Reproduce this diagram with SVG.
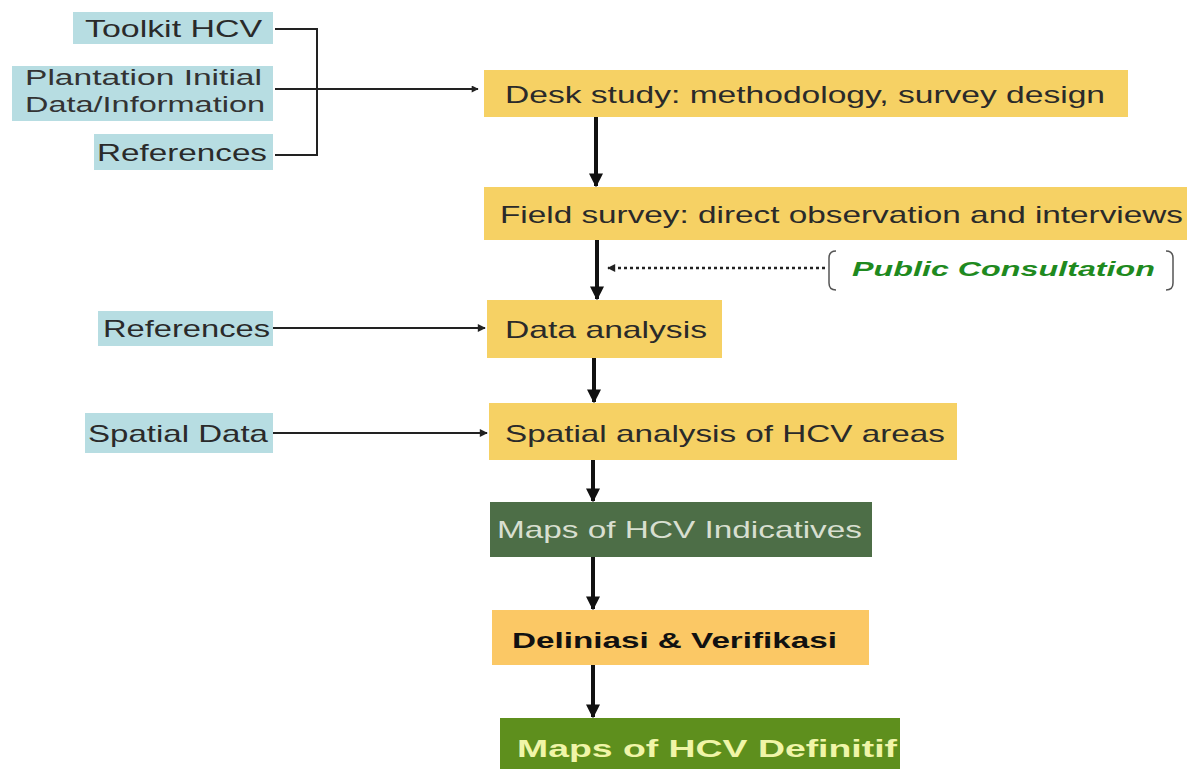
<svg xmlns="http://www.w3.org/2000/svg" width="1195" height="769" viewBox="0 0 1195 769">
<style>
.in{fill:#b7dde2}
.y{fill:#f6d164}
.t{font-family:"Liberation Sans",Arial,sans-serif;font-size:24px;fill:#2a2a2a}
.tl{font-family:"Liberation Sans",Arial,sans-serif;font-size:22px;fill:#333}
.b{font-family:"Liberation Sans",Arial,sans-serif;font-weight:bold}
.thin{stroke:#222;stroke-width:2;fill:none}
.thick{stroke:#111;stroke-width:4;fill:none}
</style>
<defs>
<marker id="ah" viewBox="0 0 10 10" refX="9" refY="5" markerWidth="9" markerHeight="7" orient="auto" markerUnits="userSpaceOnUse">
<path d="M0,0 L10,5 L0,10 Z" fill="#222"/>
</marker>
<marker id="ahs" viewBox="0 0 10 10" refX="9" refY="5" markerWidth="10" markerHeight="8" orient="auto" markerUnits="userSpaceOnUse">
<path d="M0,0 L10,5 L0,10 Z" fill="#222"/>
</marker>
<marker id="ahb" viewBox="0 0 10 10" refX="9" refY="5" markerWidth="14" markerHeight="14" orient="auto" markerUnits="userSpaceOnUse">
<path d="M0,0 L10,5 L0,10 Z" fill="#111"/>
</marker>
</defs>
<rect width="1195" height="769" fill="#ffffff"/>

<g id="toolkit">
<rect class="in" x="73" y="12" width="200" height="32"/>
<text class="t" x="85" y="37" textLength="177" lengthAdjust="spacingAndGlyphs">Toolkit HCV</text>
</g>
<g id="plantation">
<rect class="in" x="12" y="66" width="261" height="55"/>
<text class="tl" x="25" y="85" textLength="237" lengthAdjust="spacingAndGlyphs">Plantation Initial</text>
<text class="tl" x="25" y="112" textLength="240" lengthAdjust="spacingAndGlyphs">Data/Information</text>
</g>
<g id="references1">
<rect class="in" x="94" y="134" width="179" height="36"/>
<text class="t" x="97" y="161" textLength="170" lengthAdjust="spacingAndGlyphs">References</text>
</g>
<g id="references2">
<rect class="in" x="98" y="311" width="175" height="35"/>
<text class="t" x="103" y="337" textLength="167" lengthAdjust="spacingAndGlyphs">References</text>
</g>
<g id="spatialdata">
<rect class="in" x="85" y="413" width="188" height="40"/>
<text class="t" x="88" y="442" textLength="180" lengthAdjust="spacingAndGlyphs">Spatial Data</text>
</g>

<g id="desk">
<rect class="y" x="484" y="70" width="644" height="47"/>
<text class="t" x="505" y="103" textLength="600" lengthAdjust="spacingAndGlyphs">Desk study: methodology, survey design</text>
</g>
<g id="field">
<rect class="y" x="484" y="187" width="703" height="53"/>
<text class="t" x="500" y="223" textLength="683" lengthAdjust="spacingAndGlyphs">Field survey: direct observation and interviews</text>
</g>
<g id="public">
<path d="M836,251 Q829,251 829,258 L829,283 Q829,290 836,290" stroke="#555" stroke-width="1.5" fill="none"/>
<path d="M1166,251 Q1173,251 1173,258 L1173,283 Q1173,290 1166,290" stroke="#555" stroke-width="1.5" fill="none"/>
<text class="b" x="852" y="276" font-size="20" font-style="italic" fill="#1f8a1f" textLength="303" lengthAdjust="spacingAndGlyphs">Public Consultation</text>
</g>
<g id="dataanalysis">
<rect class="y" x="487" y="300" width="235" height="58"/>
<text class="t" x="505" y="338" textLength="202" lengthAdjust="spacingAndGlyphs">Data analysis</text>
</g>
<g id="spatialanalysis">
<rect class="y" x="489" y="403" width="468" height="57"/>
<text class="t" x="505" y="442" textLength="440" lengthAdjust="spacingAndGlyphs">Spatial analysis of HCV areas</text>
</g>
<g id="indicatives">
<rect x="490" y="502" width="382" height="55" fill="#4d6e47"/>
<text class="t" x="497" y="538" style="fill:#d8dfd0" textLength="365" lengthAdjust="spacingAndGlyphs">Maps of HCV Indicatives</text>
</g>
<g id="deliniasi">
<rect x="492" y="610" width="377" height="55" fill="#fbc865"/>
<text class="b" x="512" y="648" font-size="22" fill="#111" textLength="325" lengthAdjust="spacingAndGlyphs">Deliniasi &amp; Verifikasi</text>
</g>
<g id="definitif">
<rect x="500" y="718" width="400" height="51" fill="#5e8f1d"/>
<text class="b" x="517" y="757" font-size="24" fill="#f0f5a8" textLength="380" lengthAdjust="spacingAndGlyphs">Maps of HCV Definitif</text>
</g>

<g id="connectors">
<path class="thin" d="M275,29 H317 V155 H275"/>
<line class="thin" x1="275" y1="89" x2="478" y2="89" marker-end="url(#ah)"/>
<line class="thin" x1="273" y1="328" x2="485" y2="328" marker-end="url(#ahs)"/>
<line class="thin" x1="273" y1="433" x2="487" y2="433" marker-end="url(#ahs)"/>
<line class="thick" x1="596" y1="117" x2="596" y2="186" marker-end="url(#ahb)"/>
<line class="thick" x1="597" y1="240" x2="597" y2="299" marker-end="url(#ahb)"/>
<line x1="825" y1="268" x2="608" y2="268" stroke="#222" stroke-width="2.5" stroke-dasharray="3,3" marker-end="url(#ahs)"/>
<line class="thick" x1="594" y1="358" x2="594" y2="402" marker-end="url(#ahb)"/>
<line class="thick" x1="593" y1="460" x2="593" y2="501" marker-end="url(#ahb)"/>
<line class="thick" x1="593" y1="557" x2="593" y2="609" marker-end="url(#ahb)"/>
<line class="thick" x1="593" y1="665" x2="593" y2="717" marker-end="url(#ahb)"/>
</g>
</svg>
